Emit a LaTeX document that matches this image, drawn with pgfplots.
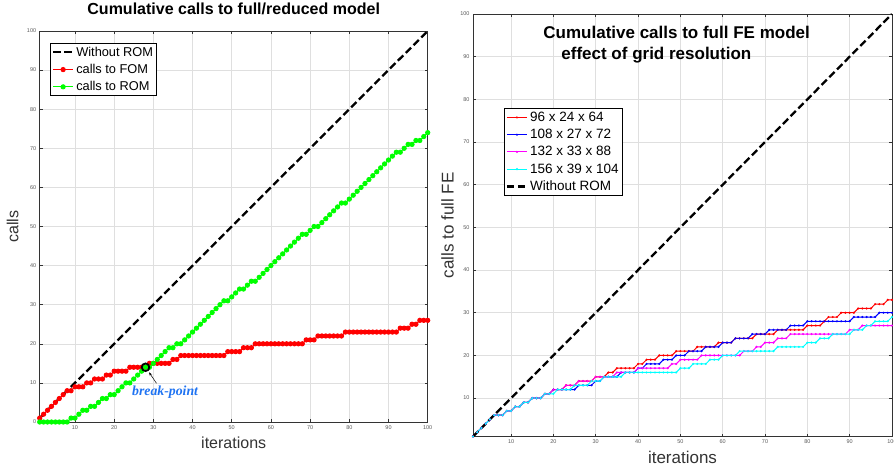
\documentclass[border=0pt]{standalone}
\usepackage{pgfplots}
\pgfplotsset{compat=1.18}
\usepackage{pgfplotstable}
\usepackage{fontspec}
\setmainfont{Liberation Sans}
\newfontfamily\timesfont{Liberation Serif}
\usetikzlibrary{arrows.meta}

\definecolor{mgreen}{rgb}{0,1,0}
\definecolor{mblue}{rgb}{0,0,1}
\definecolor{mcyan}{rgb}{0,1,1}
\definecolor{mmag}{rgb}{1,0,1}
\definecolor{bplabel}{rgb}{0.12,0.45,0.95}

% cumulative calls, left figure (fom + rom = iteration)
\pgfplotstableread{
x fom rom
1 1 0
2 2 0
3 3 0
4 4 0
5 5 0
6 6 0
7 7 0
8 8 0
9 8 1
10 9 1
11 9 2
12 9 3
13 10 3
14 10 4
15 11 4
16 11 5
17 11 6
18 12 6
19 12 7
20 13 7
21 13 8
22 13 9
23 13 10
24 14 10
25 14 11
26 14 12
27 14 13
28 14 14
29 15 14
30 15 15
31 15 16
32 15 17
33 15 18
34 15 19
35 16 19
36 16 20
37 17 20
38 17 21
39 17 22
40 17 23
41 17 24
42 17 25
43 17 26
44 17 27
45 17 28
46 17 29
47 17 30
48 17 31
49 18 31
50 18 32
51 18 33
52 18 34
53 19 34
54 19 35
55 19 36
56 20 36
57 20 37
58 20 38
59 20 39
60 20 40
61 20 41
62 20 42
63 20 43
64 20 44
65 20 45
66 20 46
67 20 47
68 20 48
69 21 48
70 21 49
71 21 50
72 22 50
73 22 51
74 22 52
75 22 53
76 22 54
77 22 55
78 22 56
79 23 56
80 23 57
81 23 58
82 23 59
83 23 60
84 23 61
85 23 62
86 23 63
87 23 64
88 23 65
89 23 66
90 23 67
91 23 68
92 23 69
93 24 69
94 24 70
95 24 71
96 25 71
97 25 72
98 26 72
99 26 73
100 26 74
}\calls

% cumulative calls to full FE model, right figure
\pgfplotstableread{
x r b m c
1 1 1 1 1
2 2 2 2 2
3 3 3 3 3
4 4 4 4 4
5 5 5 5 5
6 6 6 6 6
7 6 6 6 6
8 6 6 6 6
9 7 7 7 7
10 7 7 7 7
11 8 8 8 8
12 8 8 8 8
13 9 9 9 9
14 9 9 9 9
15 10 10 10 10
16 10 10 10 10
17 10 10 10 10
18 11 11 11 11
19 11 11 11 11
20 12 12 12 11
21 12 12 12 12
22 12 12 12 12
23 13 12 13 12
24 13 12 13 12
25 13 12 13 13
26 14 13 14 13
27 14 13 14 13
28 14 13 14 13
29 14 13 14 14
30 15 14 15 14
31 15 14 15 14
32 15 15 15 15
33 16 15 15 15
34 16 15 15 15
35 17 15 16 15
36 17 16 16 15
37 17 16 16 16
38 17 16 16 16
39 17 16 16 16
40 18 17 17 16
41 18 17 17 16
42 19 18 17 16
43 19 18 17 16
44 19 18 17 16
45 20 18 17 16
46 20 19 17 16
47 20 19 17 16
48 20 19 18 16
49 21 20 18 16
50 21 20 19 17
51 21 20 19 17
52 21 21 19 17
53 21 21 19 18
54 22 21 19 18
55 22 21 20 18
56 22 22 20 18
57 22 22 20 19
58 22 22 20 19
59 23 22 20 19
60 23 23 20 20
61 23 23 20 20
62 23 23 20 20
63 24 24 20 20
64 24 24 20 21
65 24 24 21 21
66 24 24 21 21
67 24 25 21 21
68 25 25 22 21
69 25 25 22 21
70 25 25 23 21
71 25 26 23 21
72 25 26 23 21
73 26 26 24 22
74 26 26 24 22
75 26 26 24 22
76 26 27 25 22
77 26 27 25 22
78 26 27 25 22
79 26 27 25 22
80 27 28 25 23
81 27 28 25 23
82 27 28 25 23
83 27 28 25 24
84 28 28 25 24
85 29 28 25 24
86 29 28 25 25
87 29 28 25 25
88 30 28 25 25
89 30 28 25 25
90 30 28 26 25
91 30 29 26 26
92 31 29 26 26
93 31 29 27 26
94 31 29 27 27
95 31 29 27 27
96 32 29 27 28
97 32 30 27 28
98 32 30 27 28
99 33 30 27 28
100 33 30 27 29
}\grid

\pgfplotsset{
  matlab/.style={
    scale only axis, clip=false,
    xmin=1, xmax=100, ymax=100,
    xtick={10,20,...,100},
    grid=major, major grid style={gray!25, line width=0.5pt},
    tick align=inside, major tick length=3pt,
    axis line style={black!80, line width=0.7pt},
    every tick/.style={black!80, line width=0.5pt},
    tick label style={font=\fontsize{5.5}{6}\selectfont, text=black!65},
    /pgf/number format/assume math mode=true,
    legend cell align=left,
    legend image code/.code={
      \draw[mark repeat=2, mark phase=2, ##1] plot coordinates {(0pt,0pt) (10pt,0pt) (20pt,0pt)};},
  },
  noROM/.style={black, line width=2.3pt, dash pattern=on 7.5pt off 3.5pt},
}

\begin{document}
\begin{tikzpicture}
\useasboundingbox (0,0) rectangle (894pt,466pt);

% left: calls to full/reduced model
\begin{axis}[matlab,
  at={(39.7pt,44pt)}, anchor=south west,
  width=388pt, height=391pt,
  ymin=0, ytick={0,10,...,100},
  title={Cumulative calls to full/reduced model},
  title style={font=\bfseries\fontsize{16}{19}\selectfont,
    at={(axis description cs:0.5,1)}, anchor=center, yshift=16pt},
  xlabel={iterations}, ylabel={calls},
  xlabel style={font=\fontsize{16}{19}\selectfont, text=black!80,
    at={(axis description cs:0.5,0)}, anchor=center, yshift=-21pt},
  ylabel style={font=\fontsize{16}{19}\selectfont, text=black!80,
    at={(axis description cs:0,0.5)}, anchor=center, yshift=27pt},
  legend style={font=\fontsize{12.8}{15}\selectfont, draw=black, line width=0.6pt,
    fill=white, inner sep=1.5pt, row sep=2.5pt,
    at={(axis description cs:0.027,0.969)}, anchor=north west},
]
\addplot[noROM] coordinates {(1,1) (100,100)};
\addlegendentry{Without ROM}
\addplot[red, line width=1pt, mark=*, mark size=2.1pt] table[x=x, y=fom] {\calls};
\addlegendentry{calls to FOM}
\addplot[mgreen, line width=1pt, mark=*, mark size=2.1pt] table[x=x, y=rom] {\calls};
\addlegendentry{calls to ROM}
\addplot[forget plot, only marks, mark=o, mark size=3.8pt, line width=1.8pt, black] coordinates {(28,14)};
\draw[-{Stealth[length=3.5pt, width=2.5pt]}, line width=0.5pt] (axis cs:30.8,9.9) -- (axis cs:28.9,12.7);
\node[text=bplabel, font=\timesfont\bfseries\itshape\fontsize{13.8}{16}\selectfont] at (axis cs:33,7.5) {break-point};
\end{axis}

% right: effect of grid resolution
\begin{axis}[matlab,
  at={(473pt,29.5pt)}, anchor=south west,
  width=419pt, height=422.5pt,
  ymin=1, ytick={10,20,...,100},
  title={Cumulative calls to full FE model\\\hspace*{18pt}effect of grid resolution},
  title style={font=\bfseries\fontsize{17}{21}\selectfont, align=left,
    at={(axis description cs:0.486,1)}, anchor=north, yshift=-14.5pt},
  xlabel={iterations}, ylabel={calls to full FE},
  xlabel style={font=\fontsize{17}{20}\selectfont, text=black!80,
    at={(axis description cs:0.5,0)}, anchor=center, yshift=-21pt},
  ylabel style={font=\fontsize{17}{20}\selectfont, text=black!80,
    at={(axis description cs:0,0.5)}, anchor=center, yshift=25.5pt},
  legend style={font=\fontsize{13.5}{16}\selectfont, draw=black, line width=0.6pt,
    fill=white, inner sep=1.5pt, row sep=2.3pt,
    at={(axis description cs:0.074,0.777)}, anchor=north west},
]
\addplot[red, line width=1pt, mark=*, mark size=0.5pt] table[x=x, y=r] {\grid};
\addlegendentry{96 x 24 x 64}
\addplot[mblue, line width=1pt, mark=*, mark size=0.5pt] table[x=x, y=b] {\grid};
\addlegendentry{108 x 27 x 72}
\addplot[mmag, line width=1pt, mark=*, mark size=0.5pt] table[x=x, y=m] {\grid};
\addlegendentry{132 x 33 x 88}
\addplot[mcyan, line width=1pt, mark=*, mark size=0.5pt] table[x=x, y=c] {\grid};
\addlegendentry{156 x 39 x 104}
\addplot[noROM] coordinates {(1,1) (100,100)};
\addlegendentry{Without ROM}
\end{axis}
\end{tikzpicture}
\end{document}
